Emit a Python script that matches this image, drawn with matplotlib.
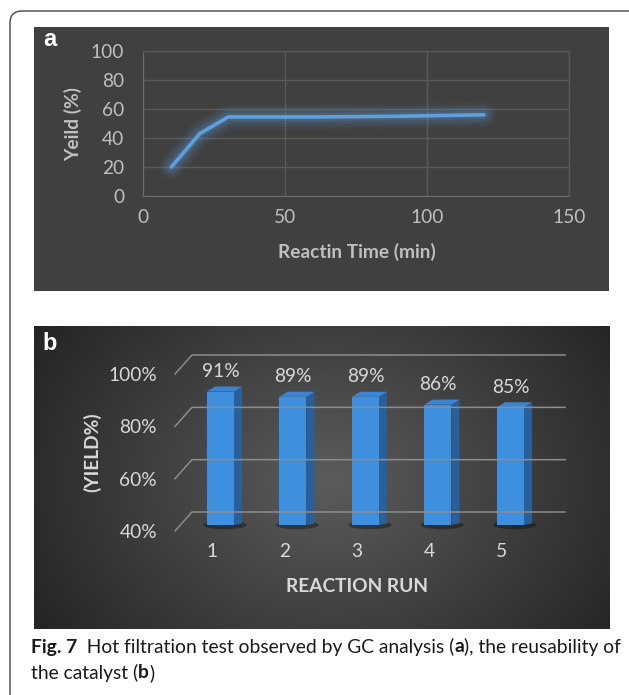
import numpy as np
import matplotlib
matplotlib.use('Agg')
import matplotlib.pyplot as plt
from matplotlib.patches import Rectangle, Polygon, FancyBboxPatch, Ellipse
from matplotlib.transforms import IdentityTransform

# dados do painel (a): teste de filtração a quente
tempo_min = [10, 20, 30, 60, 90, 120]
rend_a = [20, 43, 54.5, 54.5, 55, 56]
xticks_a = [0, 50, 100, 150]
yticks_a = [0, 20, 40, 60, 80, 100]

# dados do painel (b): reuso do catalisador
ciclos = ['1', '2', '3', '4', '5']
rend_b = [91, 89, 89, 86, 85]
yticks_b = [40, 60, 80, 100]

plt.rcParams['font.family'] = ['Lato', 'DejaVu Sans']
FS = 13.8

W, H = 629, 695
fig = plt.figure(figsize=(W / 100, H / 100), dpi=100)
fig.patch.set_facecolor('white')


def box(l, t, r, b):
    # retângulo em pixels (origem no topo) -> fração da figura
    return [l / W, 1 - b / H, (r - l) / W, (b - t) / H]


# moldura externa arredondada
frame = FancyBboxPatch((10, -20), 640, H - 11 + 20, boxstyle='round,pad=0,rounding_size=12',
                       transform=IdentityTransform(), fill=False, ec='#555555', lw=1.1)
fig.patches.append(frame)

# ---------------- painel (a) ----------------
bg_a = fig.add_axes(box(34, 27, 609, 291))
bg_a.set_facecolor('#404040')
bg_a.set_xticks([]); bg_a.set_yticks([])
for s in bg_a.spines.values():
    s.set_visible(False)

ax = fig.add_axes(box(143, 51, 569, 196))
ax.set_facecolor('none')
ax.set_xlim(0, 150)
ax.set_ylim(0, 100)
ax.set_xticks(xticks_a)
ax.set_yticks(yticks_a)
ax.tick_params(length=0, colors='#bfbfbf', labelsize=FS)
ax.tick_params(axis='y', pad=13.5)
ax.tick_params(axis='x', pad=9.5)
ax.grid(True, color='#5a5a5a', lw=1)
for s in ax.spines.values():
    s.set_color('#5a5a5a')
ax.spines['left'].set_color('#6a6a6a')
ax.spines['bottom'].set_color('#6a6a6a')

# brilho em volta da linha
for lw, a in [(18, 0.06), (14, 0.09), (10, 0.12), (6, 0.18)]:
    ax.plot(tempo_min, rend_a, color='#5b9bd5', lw=lw, alpha=a,
            solid_capstyle='round', solid_joinstyle='round', clip_on=False)
ax.plot(tempo_min, rend_a, color='#5fa0dc', lw=2.6, solid_capstyle='round', clip_on=False)

ax.set_xlabel('Reactin Time (min)', fontsize=FS, fontweight='bold', color='#bfbfbf')
ax.set_ylabel('Yeild (%)', fontsize=FS, fontweight='bold', color='#bfbfbf')
ax.xaxis.set_label_coords((357 - 143) / 426, (196 - 252) / 145)
ax.xaxis.label.set_va('center')
ax.yaxis.set_label_coords((73 - 143) / 426, (196 - 124) / 145)
ax.yaxis.label.set_va('center')

fig.text(50 / W, 1 - 40 / H, 'a', fontsize=17, fontweight='bold', color='white',
         family='Liberation Sans', ha='center', va='center')

# ---------------- painel (b) ----------------
bg_b = fig.add_axes(box(34, 326, 610, 629))
xx, yy = np.meshgrid(np.linspace(34, 610, 400), np.linspace(326, 629, 220))
r = np.sqrt(((xx - 330) / 320) ** 2 + ((yy - 480) / 260) ** 2)
g = np.clip(0.36 - 0.20 * r, 0.14, 1)
bg_b.imshow(np.dstack([g, g, g]), aspect='auto', extent=[0, 1, 0, 1])
bg_b.set_xticks([]); bg_b.set_yticks([])
for s in bg_b.spines.values():
    s.set_visible(False)

bx = fig.add_axes(box(175, 374, 565, 531))
bx.set_facecolor('none')
bx.set_xlim(0.49, 5.87)
bx.set_ylim(40, 100)
for s in bx.spines.values():
    s.set_visible(False)

px_x = 390 / (5.87 - 0.49)     # pixels por categoria
px_y = 157 / 60                # pixels por ponto percentual
dxb, dyb = 17 / px_x, 19 / px_y   # deslocamento da parede do fundo

for v in yticks_b:
    bx.plot([0.49, 0.49 + dxb, 5.87], [v, v + dyb, v + dyb], color='#8c8c8c', lw=1.1, clip_on=False)

pos = np.arange(1, len(ciclos) + 1)
fdx, fdy = 8.5 / px_x, 6 / px_y       # face frontal das barras
wid = 27 / px_x
sdx, sdy = 8 / px_x, 5 / px_y          # profundidade da barra
base = 40 + fdy
for c, val in zip(pos, rend_b):
    xl = c + fdx - wid / 2
    xr = xl + wid
    top = val + fdy
    bx.add_patch(Ellipse((c + fdx + 0.06, base), wid * 1.6, 3.2, color='black', alpha=0.35,
                         lw=0, clip_on=False))
    bx.add_patch(Polygon([(xr, base), (xr, top), (xr + sdx, top + sdy), (xr + sdx, base + sdy * 0.3)],
                         closed=True, fc='#2a5f9a', ec='none', clip_on=False))
    bx.add_patch(Polygon([(xl, top), (xr, top), (xr + sdx, top + sdy), (xl + sdx, top + sdy)],
                         closed=True, fc='#3b86d4', ec='none', clip_on=False))
    bx.add_patch(Rectangle((xl, base), wid, val - 40, fc='#3f8fdf', ec='none', clip_on=False))
    bx.text(c + fdx, val + 10, f'{val}%', ha='center', va='center', fontsize=FS, color='#d9d9d9')

bx.set_xticks(pos)
bx.set_xticklabels(ciclos)
bx.set_yticks(yticks_b)
bx.set_yticklabels([f'{v}%' for v in yticks_b])
bx.tick_params(length=0, colors='#d9d9d9', labelsize=FS)
bx.tick_params(axis='y', pad=13)
bx.tick_params(axis='x', pad=8.5)

bx.set_xlabel('REACTION RUN', fontsize=FS, fontweight='bold', color='#d9d9d9')
bx.set_ylabel('(YIELD%)', fontsize=FS, fontweight='bold', color='#d9d9d9')
bx.xaxis.set_label_coords((357 - 175) / 390, (531 - 587) / 157)
bx.xaxis.label.set_va('center')
bx.yaxis.set_label_coords((92 - 175) / 390, (531 - 452) / 157)
bx.yaxis.label.set_va('center')

fig.text(50 / W, 1 - 343 / H, 'b', fontsize=17, fontweight='bold', color='white',
         family='Liberation Sans', ha='center', va='center')

# ---------------- legenda ----------------
rend = fig.canvas.get_renderer()


def linha(partes, x0, y0, size=13.9):
    x = x0
    for txt, peso in partes:
        t = fig.text(x / W, 1 - y0 / H, txt, fontsize=size, fontweight=peso,
                     color='#1a1a1a', ha='left', va='center')
        x += t.get_window_extent(rend).width


linha([('Fig. 7', 'bold'), ('  Hot filtration test observed by GC analysis (', 'normal'),
       ('a', 'bold'), ('), the reusability of', 'normal')], 31, 647)
linha([('the catalyst (', 'normal'), ('b', 'bold'), (')', 'normal')], 31, 673)

fig.savefig('out.png', dpi=100)
